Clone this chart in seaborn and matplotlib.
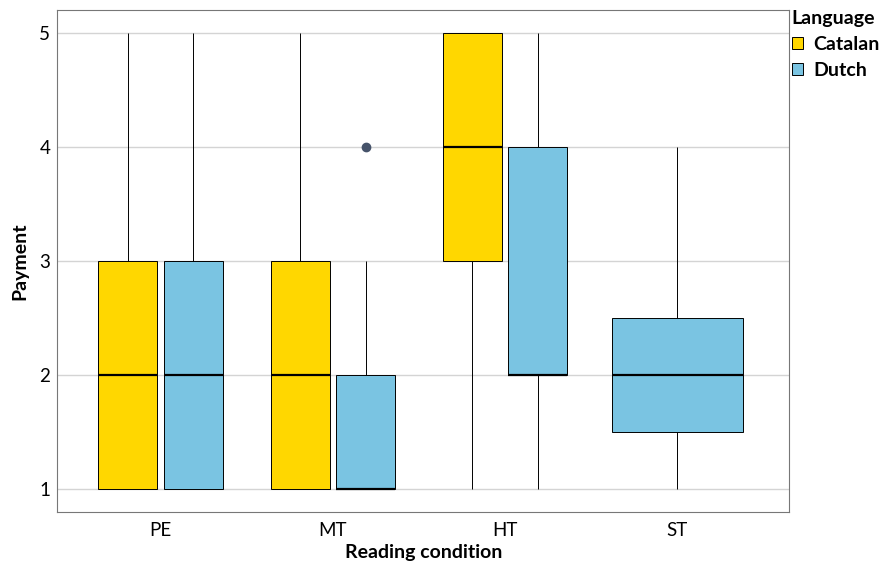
import pandas as pd
import matplotlib
matplotlib.use('Agg')
import matplotlib.pyplot as plt
import seaborn as sns

# Payment ratings per reading condition and language
conditions = ["PE", "MT", "HT", "ST"]
pe_catalan = [1, 1, 1, 2, 2, 3, 3, 4, 5]
pe_dutch = [1, 1, 1, 2, 2, 3, 3, 5]
mt_catalan = [1, 1, 1, 2, 2, 3, 3, 4, 5]
mt_dutch = [1, 1, 1, 1, 1, 1, 2, 2, 3, 4]
ht_catalan = [1, 3, 3, 4, 4, 5, 5, 5]
ht_dutch = [1, 2, 2, 2, 2, 3, 4, 4, 5]
st_dutch = [1, 1, 2, 2, 2, 3, 4]

palette = {"Catalan": "#FFD700", "Dutch": "#7AC4E2"}

rows = []
for cond, lang, vals in [("PE", "Catalan", pe_catalan), ("PE", "Dutch", pe_dutch),
                         ("MT", "Catalan", mt_catalan), ("MT", "Dutch", mt_dutch),
                         ("HT", "Catalan", ht_catalan), ("HT", "Dutch", ht_dutch)]:
    for v in vals:
        rows.append({"Reading condition": cond, "Language": lang, "Payment": v})
df = pd.DataFrame(rows)
df_st = pd.DataFrame({"Reading condition": "ST", "Language": "Dutch", "Payment": st_dutch})

plt.rcParams['font.family'] = ['Lato', 'DejaVu Sans']

fig, ax = plt.subplots(figsize=(8.93, 5.62), dpi=100)

box_kws = dict(linecolor="black", linewidth=0.7, showcaps=False,
               medianprops={"linewidth": 1.6, "color": "black"},
               flierprops={"marker": "o", "markersize": 6, "markerfacecolor": "#46536A",
                           "markeredgecolor": "#46536A"})

sns.boxplot(data=df, x="Reading condition", y="Payment", hue="Language", order=conditions,
            hue_order=["Catalan", "Dutch"], palette=palette, width=0.76, gap=0.1,
            saturation=1, ax=ax, **box_kws)
sns.boxplot(data=df_st, x="Reading condition", y="Payment", order=conditions,
            color=palette["Dutch"], width=0.76, saturation=1, ax=ax, legend=False, **box_kws)

ax.set_xlim(-0.6, 3.65)
ax.set_ylim(0.8, 5.2)
ax.set_yticks([1, 2, 3, 4, 5])
ax.yaxis.grid(True, color="#d4d4d4", linewidth=1)
ax.xaxis.grid(False)
ax.set_axisbelow(True)
ax.tick_params(length=0, labelsize=13.5, pad=7)
ax.tick_params(axis="y", pad=5)
for s in ax.spines.values():
    s.set_color("#777777")
    s.set_linewidth(0.8)

ax.set_xlabel("Reading condition", fontsize=14, fontweight="bold", labelpad=4)
ax.set_ylabel("Payment", fontsize=14, fontweight="bold", labelpad=8)

leg = ax.legend(title="Language", loc="upper left", bbox_to_anchor=(1.003, 1.0),
                frameon=False, fontsize=14, title_fontsize=14,
                handlelength=0.6, handleheight=0.55, handletextpad=0.5, borderaxespad=0.0,
                borderpad=0.0, labelspacing=0.45)
leg.get_title().set_fontweight("bold")
leg._legend_box.align = "left"
for t in leg.get_texts():
    t.set_fontweight("bold")

plt.subplots_adjust(left=0.064, right=0.884, top=0.982, bottom=0.089)
plt.savefig("out.png", dpi=100)
plt.close()
